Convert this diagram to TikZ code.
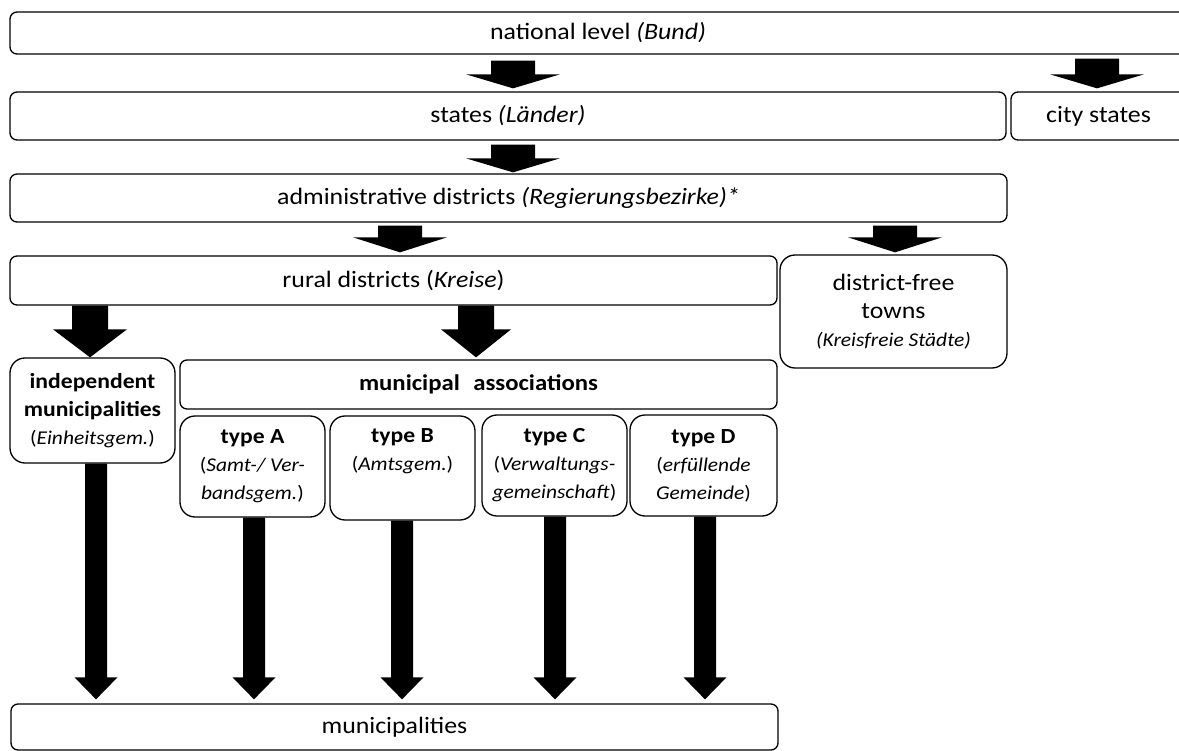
\documentclass[tikz,border=0pt]{standalone}
\usepackage{fontspec}
\setmainfont{Carlito}[FakeStretch=1.1]
\usetikzlibrary{calc}
\newcommand\Rg{\fontsize{23.5}{28}\selectfont}
\newcommand\Bd{\fontsize{21.5}{28}\selectfont\bfseries}
\newcommand\Sm{\fontsize{19.5}{28}\selectfont}
\tikzset{
  box/.style={draw, line width=1.3pt, rounded corners=7pt, fill=white, inner sep=0pt, align=center, font=\Rg},
  roundbox/.style={box, rounded corners=15pt},
}
% block arrow: src, dst, x, shaft half width, head half width, head length, start gap, end gap
\newcommand\blockarrow[8]{%
  \fill let \p1=(#1.south), \p2=(#2.north) in
    (#3pt-#4pt,\y1-#7pt) -- (#3pt+#4pt,\y1-#7pt) -- (#3pt+#4pt,\y2+#8pt+#6pt)
    -- (#3pt+#5pt,\y2+#8pt+#6pt) -- (#3pt,\y2+#8pt) -- (#3pt-#5pt,\y2+#8pt+#6pt)
    -- (#3pt-#4pt,\y2+#8pt+#6pt) -- cycle;}
\begin{document}
\begin{tikzpicture}[x=1pt,y=-1pt]
\useasboundingbox (0,0) rectangle (1179,751);
\node[box, minimum width=1176pt, minimum height=42pt] (nat) at (598,33) {national level \textit{(Bund)}};
\node[box, minimum width=996pt, minimum height=48pt] (sta) at (508,116) {states \textit{(Länder)}};
\node[box, minimum width=175pt, minimum height=48pt] (city) at (1098.5,116) {city states};
\node[box, minimum width=997pt, minimum height=48pt] (adm) at (508.5,198) {administrative districts \textit{(Regierungsbezirke)*}};
\node[box, minimum width=767pt, minimum height=49pt] (rur) at (393.5,280.5) {rural districts (\textit{Kreise})};
\node[roundbox, minimum width=227pt, minimum height=113pt] (dft) at (893.5,311.5) {district-free\\towns\\{\Sm\itshape (Kreisfreie Städte)}};
\node[roundbox, minimum width=165pt, minimum height=105pt] (ind) at (92.5,410.5) {{\Bd independent}\\{\Bd municipalities}\\{\Sm(\textit{Einheitsgem.})}};
\node[box, minimum width=597pt, minimum height=49pt] (mas) at (478.5,384.5) {\fontsize{22.5}{28}\selectfont\bfseries municipal\hspace{0.35em} associations};
\node[roundbox, minimum width=145pt, minimum height=101pt] (tA) at (252.5,466.5) {{\Bd type A}\\{\Sm(\textit{Samt-/ Ver-}}\\{\Sm\textit{bandsgem.})}};
\node[roundbox, minimum width=145pt, minimum height=104pt] (tB) at (402.5,468) {{\Bd type B}\\{\Sm(\textit{Amtsgem.})}\\{\Sm\strut}};
\node[roundbox, minimum width=145pt, minimum height=101pt] (tC) at (554.5,465.5) {{\Bd type C}\\{\Sm(\textit{Verwaltungs-}}\\{\Sm\textit{gemeinschaft})}};
\node[roundbox, minimum width=147pt, minimum height=101pt] (tD) at (703.5,465.5) {{\Bd type D}\\{\Sm(\textit{erfüllende}}\\{\Sm\textit{Gemeinde})}};
\node[box, minimum width=767pt, minimum height=46pt] (mun) at (394.5,727) {municipalities};
% connectors
\blockarrow{nat}{sta}{513}{22}{47}{14}{6}{3}
\blockarrow{nat}{city}{1097}{22}{47}{14}{4}{3}
\blockarrow{sta}{adm}{513}{22}{47}{14}{4}{1}
\blockarrow{adm}{rur}{400}{22}{47}{15}{3}{3}
\blockarrow{adm}{dft}{895}{22}{47}{15}{3}{2}
\blockarrow{rur}{ind}{90}{18}{37}{28}{0}{0}
\blockarrow{rur}{mas}{476}{18}{35}{28}{0}{2}
\blockarrow{ind}{mun}{96}{11}{21.5}{22}{0}{4}
\blockarrow{tA}{mun}{254}{11}{21.5}{22}{0}{4}
\blockarrow{tB}{mun}{402}{11}{21.5}{22}{0}{4}
\blockarrow{tC}{mun}{555}{11}{21.5}{22}{0}{4}
\blockarrow{tD}{mun}{705}{11}{21.5}{22}{0}{4}
\end{tikzpicture}
\end{document}
